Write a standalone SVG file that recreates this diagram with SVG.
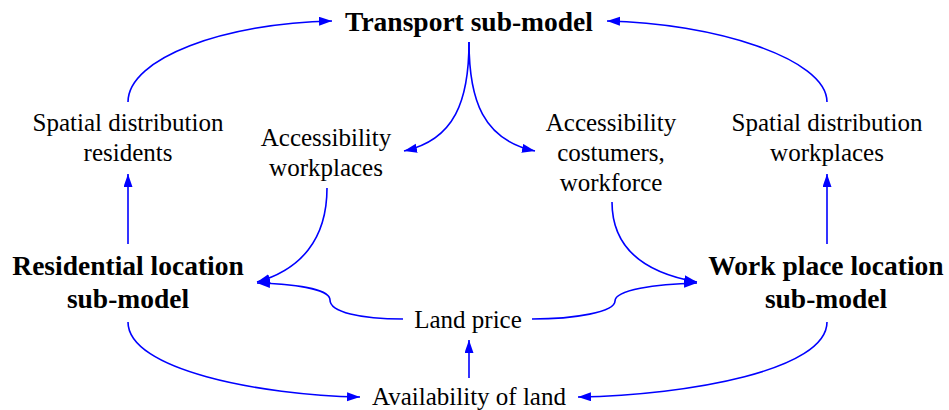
<svg xmlns="http://www.w3.org/2000/svg" width="949" height="410" viewBox="0 0 949 410">
<style>
text{font-family:'Liberation Serif',Tinos,'Times New Roman','Nimbus Roman','DejaVu Serif',serif;fill:#000;text-anchor:middle}
.t{font-size:25px}
.b{font-size:27.5px;font-weight:bold}
.c{fill:none;stroke:#0000ff;stroke-width:1.6}
</style>
<defs>
<marker id="ah" markerUnits="userSpaceOnUse" markerWidth="14" markerHeight="10" refX="13" refY="4.5" orient="auto">
<path d="M0,0 L13,4.5 L0,9 z" fill="#0000ff"/>
</marker>
</defs>
<rect width="949" height="410" fill="#fff"/>
<g id="connectors">
<path class="c" marker-end="url(#ah)" d="M128,102 C128,58 225,23 332,21"/>
<path class="c" marker-end="url(#ah)" d="M827,102 C827,58 712,23 607,21"/>
<path class="c" marker-end="url(#ah)" d="M469,42 C469,100 455,140 404,151"/>
<path class="c" marker-end="url(#ah)" d="M469,42 C469,100 483,140 535,151"/>
<path class="c" marker-end="url(#ah)" d="M128,244 L128,174"/>
<path class="c" marker-end="url(#ah)" d="M827,244 L827,174"/>
<path class="c" marker-end="url(#ah)" d="M327,188 C327,240 300,270 257,282"/>
<path class="c" marker-end="url(#ah)" d="M612,202 C612,245 640,272 697,282"/>
<path class="c" marker-end="url(#ah)" d="M403,319 C360,319 330,312 330,300 C330,288 290,284 257,283"/>
<path class="c" marker-end="url(#ah)" d="M532,319 C575,319 615,312 615,301 C615,290 655,284 697,283"/>
<path class="c" marker-end="url(#ah)" d="M469,378 L469,340"/>
<path class="c" marker-end="url(#ah)" d="M128,322 C128,370 260,395 360,397"/>
<path class="c" marker-end="url(#ah)" d="M827,322 C827,370 690,395 578,397"/>
</g>
<g id="transport"><text class="b" x="469" y="31">Transport sub-model</text></g>
<g id="spatial-residents"><text class="t" x="128" y="131">Spatial distribution</text><text class="t" x="128" y="161">residents</text></g>
<g id="access-workplaces"><text class="t" x="326" y="146">Accessibility</text><text class="t" x="326" y="176">workplaces</text></g>
<g id="access-costumers"><text class="t" x="611" y="131">Accessibility</text><text class="t" x="611" y="161">costumers,</text><text class="t" x="611" y="191">workforce</text></g>
<g id="spatial-workplaces"><text class="t" x="827" y="131">Spatial distribution</text><text class="t" x="827" y="161">workplaces</text></g>
<g id="residential"><text class="b" x="128" y="275">Residential location</text><text class="b" x="128" y="308">sub-model</text></g>
<g id="workplace"><text class="b" x="826" y="275">Work place location</text><text class="b" x="826" y="308">sub-model</text></g>
<g id="land-price"><text class="t" x="468" y="328">Land price</text></g>
<g id="availability"><text class="t" x="469" y="405">Availability of land</text></g>
</svg>
